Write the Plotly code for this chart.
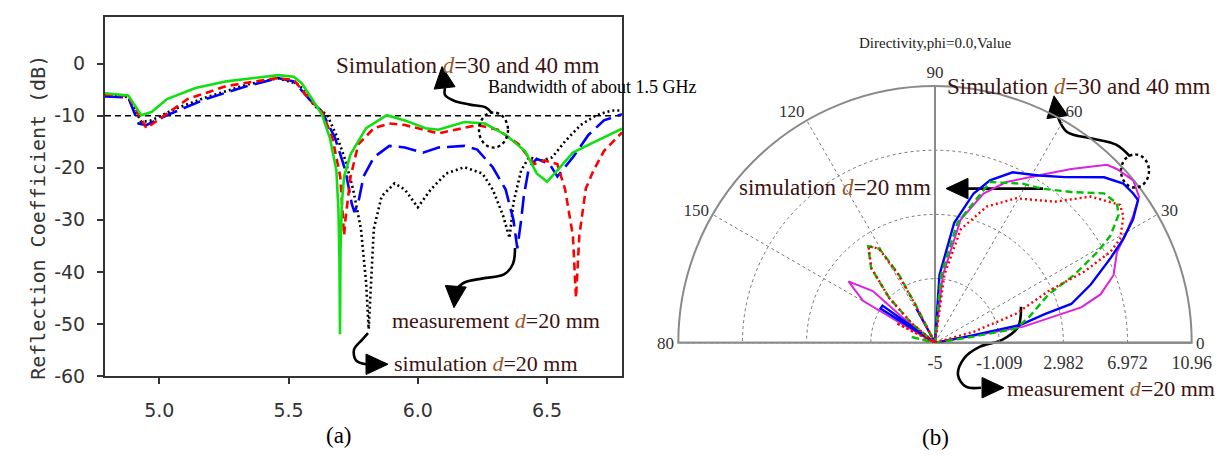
import math
import plotly.graph_objects as go

W, H = 1225, 460

# ---------------- (a) Reflection coefficient (dB) vs frequency (GHz) ----------------
green_f = [4.79, 4.88, 4.93, 4.97, 5.03, 5.14, 5.26, 5.42, 5.46, 5.52, 5.55, 5.60, 5.63, 5.66,
           5.685, 5.693, 5.697, 5.699, 5.701, 5.706, 5.715, 5.74, 5.80, 5.88, 5.95, 6.03, 6.08,
           6.18, 6.26, 6.34, 6.415, 6.46, 6.50, 6.54, 6.60, 6.69, 6.79]
green_db = [-5.7, -6.1, -9.9, -9.3, -6.8, -4.7, -3.4, -2.5, -2.2, -2.5, -3.7, -7.5, -9.9, -14.3,
            -20.5, -28, -38, -52, -36, -27, -21.7, -17.4, -12.4, -9.9, -10.9, -12.4, -12.7,
            -11.2, -11.5, -13.7, -16.8, -21.1, -22.7, -20.5, -17.1, -14.9, -12.5]

red_f = [4.79, 4.88, 4.95, 5.00, 5.11, 5.26, 5.45, 5.52, 5.58, 5.63, 5.67, 5.70, 5.71, 5.715,
         5.72, 5.74, 5.77, 5.83, 5.89, 5.95, 6.08, 6.23, 6.31, 6.39, 6.45, 6.49, 6.54, 6.57,
         6.60, 6.612, 6.625, 6.65, 6.68, 6.72, 6.79]
red_db = [-5.9, -6.2, -12.4, -10.6, -6.8, -4.3, -2.8, -3.1, -6.8, -9.3, -14.3, -21.7, -30, -33,
          -30, -21.7, -15.5, -12.4, -11.5, -11.8, -13.4, -11.8, -12.7, -15.5, -19.3, -18.6, -19.3, -24.2,
          -33, -45, -33, -24, -20.5, -16.8, -13.2]

blue_f = [4.79, 4.88, 4.92, 4.95, 5.03, 5.18, 5.34, 5.46, 5.52, 5.58, 5.63, 5.68, 5.72, 5.745,
          5.755, 5.77, 5.79, 5.83, 5.89, 5.95, 6.02, 6.08, 6.18, 6.23, 6.29, 6.34, 6.37, 6.385,
          6.40, 6.41, 6.43, 6.46, 6.51, 6.54, 6.60, 6.66, 6.72, 6.79]
blue_db = [-6.3, -6.5, -11.5, -11.8, -9.9, -6.8, -4.3, -2.8, -3.4, -6.8, -9.3, -14.3, -20.5, -27,
           -28.5, -26.7, -21.7, -18, -15.8, -16.1, -17.1, -16.1, -15.8, -16.5, -19.9, -24.2, -30, -35.5,
           -30, -25.5, -19.9, -18.3, -19.3, -21.7, -18, -13.7, -10.9, -9.7]

black_f = [4.79, 4.88, 4.93, 4.97, 5.06, 5.18, 5.34, 5.46, 5.54, 5.60, 5.65, 5.69, 5.72, 5.75,
           5.78, 5.80, 5.81, 5.82, 5.83, 5.86, 5.91, 5.95, 6.00, 6.05, 6.11, 6.18, 6.25, 6.29,
           6.33, 6.355, 6.37, 6.40, 6.43, 6.48, 6.52, 6.57, 6.63, 6.69, 6.75, 6.79]
black_db = [-6.1, -6.4, -11.2, -10.9, -8.7, -6.5, -4.0, -2.8, -4.0, -8.1, -9.9, -14.3, -18.6, -24.2,
            -31.7, -42, -51, -42, -31.7, -25.5, -23, -24.2, -27.6, -24.2, -21.1, -19.9, -21.1, -24.2,
            -29.2, -33.5, -26.7, -20.5, -18, -18.6, -18, -14.9, -11.8, -9.9, -9.0, -9.0]

threshold_db = -10
freq_range = [4.79, 6.79]
db_range = [-60, 9]
x_ticks = [5.0, 5.5, 6.0, 6.5]
x_ticktext = ["5.0", "5.5", "6.0", "6.5"]
y_ticks = [0, -10, -20, -30, -40, -50, -60]
y_ticktext = ["0", "-10", "-20", "-30", "-40", "-50", "-60"]

# ---------------- (b) Directivity, phi = 0 (polar) ----------------
mag_theta = [0, 9, 10.3, 12.4, 13.6, 16.3, 20.8, 26.5, 29.4, 32.6, 35.6, 39.3, 43.7, 46.0, 51.9,
             56.8, 66.1, 72.0, 78.2, 83.4, 88, 138, 142, 140.2, 144.6, 149.7, 150.3, 152, 180]
mag_r = [-5, -5, 0.53, 2.44, 4.35, 5.72, 6.88, 7.64, 8.56, 9.62, 10.6, 10.93, 10.64, 10.39, 8.73,
         7.54, 5.93, 4.76, 2.83, -0.75, -5, -5, -2.4, 0.03, 1.6, 0.18, -2.2, -5, -5]

blu_theta = [0, 10, 11, 11.8, 14.7, 15.9, 20.5, 25.7, 28.9, 31.9, 35.1, 37.0, 40.2, 44.4, 51.9,
             58.2, 65.5, 71.3, 75.5, 80.9, 86.2, 89, 116, 118.3, 120, 143, 144.7, 147.9, 149, 180]
blu_r = [-5, -5, -3.0, 0.4, 2.09, 3.81, 5.34, 7.1, 8.37, 9.5, 10.43, 10.43, 10.33, 9.71, 8.09,
         7.24, 6.65, 5.66, 4.59, 2.56, -0.76, -5, -5, -2.6, -5, -5, -1.0, -1.0, -5, -5]

grn_theta = [0, 7, 9.1, 10.0, 15.3, 23.1, 26.0, 29.2, 31.4, 34.9, 37.5, 41.5, 47.9, 55.2, 61.2,
             71.1, 79.4, 84.8, 88, 114, 117.1, 117.9, 120.6, 124.7, 130.6, 135.4, 140.3, 143,
             160, 166, 172, 180]
grn_r = [-5, -5, -2.56, 0.12, 1.06, 2.68, 4.65, 6.56, 7.77, 8.92, 9.25, 9.02, 7.64, 6.67, 6.29,
         5.56, 2.59, -0.75, -5, -5, -2.3, -0.21, 1.8, 2.3, 1.1, -1.0, -3.1, -5,
         -5, -3.4, -5, -5]

rd_theta = [0, 13, 15.9, 19.7, 24.5, 25.5, 27.4, 29.3, 33.9, 36.7, 43.2, 49.6, 60.7, 69.2, 77.2,
            82.1, 87, 114, 117.5, 118.3, 120.8, 124.5, 130.4, 135.6, 140, 143, 149, 153, 157, 180]
rd_r = [-5, -5, -2.5, 0.35, 2.76, 5.29, 7.28, 8.2, 9.11, 9.35, 8.28, 6.52, 5.3, 4.06, 2.24,
        -0.73, -5, -5, -2.3, -0.2, 1.8, 2.3, 1.1, -1.0, -3.1, -5, -5, -2.3, -5, -5]

r_range = [-5, 10.96]
r_ticks = [-5, -1.009, 2.982, 6.972, 10.96]
r_ticktext = ["-5", "-1.009", "2.982", "6.972", "10.96"]
ang_ticks = [0, 30, 60, 90, 120, 150, 180]
ang_ticktext = ["0", "30", "60", "90", "120", "150", "80"]

SERIF = "Liberation Serif"
TXT = "#3d1212"
DCOL = "#9a5a2a"

fig = go.Figure()

# ---- panel (a) curves ----
fig.add_trace(go.Scatter(x=freq_range, y=[threshold_db, threshold_db], mode="lines",
                         line=dict(color="black", width=1.6, dash="6px,4px"), xaxis="x", yaxis="y"))
fig.add_trace(go.Scatter(x=black_f, y=black_db, mode="lines",
                         line=dict(color="black", width=2.6, dash="2px,3px"), xaxis="x", yaxis="y"))
fig.add_trace(go.Scatter(x=blue_f, y=blue_db, mode="lines",
                         line=dict(color="#0000ff", width=2.6, dash="18px,7px"), xaxis="x", yaxis="y"))
fig.add_trace(go.Scatter(x=red_f, y=red_db, mode="lines",
                         line=dict(color="#ff0000", width=2.6, dash="8px,5px"), xaxis="x", yaxis="y"))
fig.add_trace(go.Scatter(x=green_f, y=green_db, mode="lines",
                         line=dict(color="#10e010", width=2.6), xaxis="x", yaxis="y"))

# ---- panel (b) polar curves ----
fig.add_trace(go.Scatterpolar(theta=[180, 0], r=[r_range[1], r_range[1]], mode="lines",
                              line=dict(color="#8a8a8a", width=2), subplot="polar"))
fig.add_trace(go.Scatterpolar(theta=[90, 90], r=r_range, mode="lines",
                              line=dict(color="#8a8a8a", width=2), subplot="polar"))
fig.add_trace(go.Scatterpolar(theta=mag_theta, r=mag_r, mode="lines",
                              line=dict(color="#dd22dd", width=2), subplot="polar"))
fig.add_trace(go.Scatterpolar(theta=blu_theta, r=blu_r, mode="lines",
                              line=dict(color="#0000ff", width=2.4), subplot="polar"))
fig.add_trace(go.Scatterpolar(theta=grn_theta, r=grn_r, mode="lines",
                              line=dict(color="#00c000", width=2.4, dash="7px,4px"), subplot="polar"))
fig.add_trace(go.Scatterpolar(theta=rd_theta, r=rd_r, mode="lines",
                              line=dict(color="#ff0000", width=2.4, dash="2px,3px"), subplot="polar"))

# ---- decorative curly arrows (page pixel overlay) ----
arrow_paths = [
    ([484, 478, 462, 446, 437, 437], [108, 102, 99, 95, 89, 82]),
    ([507, 505, 496, 475, 457, 448], [246, 262, 273, 277, 281, 288]),
    ([360, 354, 346, 348, 358], [333, 340, 350, 361, 365]),
    ([1122, 1108, 1085, 1059, 1050], [152, 140, 134, 127, 112]),
    ([1035, 960], [185, 185]),
    ([1013, 1010, 994, 972, 956, 950, 958, 973], [306, 327, 340, 347, 359, 376, 388, 389]),
]
arrow_heads = [
    (434, 60, -0.12, -1.0),
    (446, 307, -0.08, 1.0),
    (380, 365, 1.0, 0.0),
    (1046, 90, -0.15, -1.0),
    (938, 185, -1.0, 0.0),
    (996, 389, 1.0, 0.0),
]
for xs, ys in arrow_paths:
    fig.add_trace(go.Scatter(x=xs, y=ys, mode="lines", line=dict(color="black", width=2.6, shape="spline"),
                             xaxis="x3", yaxis="y3"))
for tx, ty, dx, dy in arrow_heads:
    n = math.hypot(dx, dy)
    ux, uy = dx / n, dy / n
    L, Wd = 22, 21
    bx, by = tx - L * ux, ty - L * uy
    px, py = -uy, ux
    fig.add_trace(go.Scatter(x=[tx, bx + Wd / 2 * px, bx - Wd / 2 * px, tx],
                             y=[ty, by + Wd / 2 * py, by - Wd / 2 * py, ty],
                             mode="lines", fill="toself", fillcolor="black",
                             line=dict(color="black", width=1), xaxis="x3", yaxis="y3"))

def lab(word, num):
    return f"{word} <i><span style='color:{DCOL}'>d</span></i>={num}"

annos = [
    dict(text=lab("Simulation", "30 and 40 mm"), x=326, y=59, xanchor="left", size=23, color=TXT),
    dict(text="Bandwidth of about 1.5 GHz", x=478, y=81, xanchor="left", size=18, color="black"),
    dict(text=lab("measurement", "20 mm"), x=382, y=320, xanchor="left", size=22, color=TXT),
    dict(text=lab("simulation", "20 mm"), x=384, y=364, xanchor="left", size=22, color=TXT),
    dict(text="(a)", x=331, y=438, xanchor="center", size=23, color="black"),
    dict(text="Directivity,phi=0.0,Value", x=927, y=36, xanchor="center", size=15, color="#222"),
    dict(text=lab("Simulation", "30 and 40 mm"), x=937, y=80, xanchor="left", size=23, color=TXT),
    dict(text=lab("simulation", "20 mm"), x=729, y=184, xanchor="left", size=23, color=TXT),
    dict(text=lab("measurement", "20 mm"), x=997, y=390, xanchor="left", size=22, color=TXT),
    dict(text="(b)", x=927, y=440, xanchor="center", size=23, color="black"),
]
annotations = []
for a in annos:
    annotations.append(dict(text=a["text"], x=a["x"], y=a["y"], xref="x3", yref="y3",
                            xanchor=a["xanchor"], yanchor="middle", showarrow=False,
                            font=dict(family=SERIF, size=a["size"], color=a["color"])))
annotations.append(dict(text="Reflection Coefficient (dB)", x=30, y=215, xref="x3", yref="y3",
                        textangle=-90, showarrow=False, xanchor="center", yanchor="middle",
                        font=dict(family="DejaVu Sans Mono", size=20, color="#333")))

shapes = [
    dict(type="circle", xref="x3", yref="y3", x0=471, x1=500, y0=107, y1=143,
         line=dict(color="black", width=2.4, dash="dot")),
    dict(type="circle", xref="x3", yref="y3", x0=1113, x1=1141, y0=150, y1=184,
         line=dict(color="black", width=2.4, dash="dot")),
]

tickfont = dict(family="DejaVu Sans", size=19, color="#333")
fig.update_layout(
    width=W, height=H, margin=dict(l=0, r=0, t=0, b=0),
    paper_bgcolor="white", plot_bgcolor="rgba(0,0,0,0)",
    showlegend=False, hovermode=False,
    xaxis=dict(domain=[97 / W, 614 / W], range=freq_range, tickvals=x_ticks, ticktext=x_ticktext,
               ticks="outside", ticklen=6, tickwidth=1.5, tickcolor="#333", showline=True, mirror=True,
               linecolor="#333", linewidth=2, showgrid=False, zeroline=False, tickfont=tickfont,
               ticklabelstandoff=10, anchor="y"),
    yaxis=dict(domain=[1 - 377 / H, 1 - 9 / H], range=db_range, tickvals=y_ticks, ticktext=y_ticktext,
               ticks="outside", ticklen=6, tickwidth=1.5, tickcolor="#333", showline=True, mirror=True,
               linecolor="#333", linewidth=2, showgrid=False, zeroline=False, tickfont=tickfont,
               ticklabelstandoff=8, anchor="x"),
    xaxis3=dict(domain=[0, 1], range=[0, W], visible=False, fixedrange=True, anchor="y3"),
    yaxis3=dict(domain=[0, 1], range=[H, 0], visible=False, fixedrange=True, anchor="x3"),
    polar=dict(
        domain=dict(x=[664 / W, 1190 / W], y=[1 - 343 / H, 1 - 80 / H]),
        sector=[0, 180], bgcolor="rgba(0,0,0,0)",
        radialaxis=dict(range=r_range, tickvals=r_ticks, ticktext=r_ticktext, angle=0, tickangle=0,
                        showline=True, linecolor="#8a8a8a", linewidth=2,
                        ticks="outside", ticklen=4, tickcolor="rgba(0,0,0,0)",
                        showgrid=True, gridcolor="#777", gridwidth=1, griddash="dot",
                        tickfont=dict(family=SERIF, size=18, color="#333"), layer="below traces"),
        angularaxis=dict(direction="counterclockwise", rotation=0, tickvals=ang_ticks,
                         ticktext=ang_ticktext, showline=True, linecolor="#8a8a8a", linewidth=2,
                         ticks="", showgrid=True, gridcolor="#777", gridwidth=1, griddash="dot",
                         tickfont=dict(family=SERIF, size=17, color="#333"), layer="below traces"),
    ),
    annotations=annotations, shapes=shapes,
)

fig.write_html("out.html")
